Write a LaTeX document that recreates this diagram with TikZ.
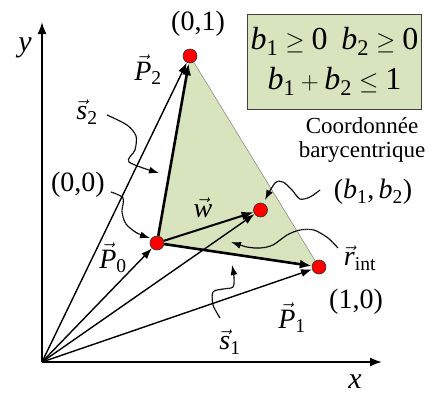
\documentclass[tikz,border=0pt]{standalone}
\usepackage{amsmath}
\usepackage{fontspec}
\setmainfont{Liberation Serif}
\usepackage{tikz}
\usetikzlibrary{arrows.meta,backgrounds}

\definecolor{trigreen}{HTML}{D7E4BD}
\newcommand{\vlab}[2]{$\vec{\textit{#1}}_{\textrm{#2}}$}
\newcommand{\bsub}[1]{\textit{b}_{\textrm{#1}}}

\begin{document}
\begin{tikzpicture}[x=1pt,y=-1pt,
    vec/.style={line width=1.4pt,-{Latex[length=11pt,width=8pt]}},
    edge/.style={line width=2.6pt,-{Latex[length=12pt,width=9pt]}},
    axis/.style={line width=1.8pt,-{Latex[length=12pt,width=9pt]}},
    pt/.style={circle,draw=black!80,line width=0.6pt,fill=red,inner sep=0pt,minimum size=14pt},
    wig/.style={dash pattern=on 1.6pt off 0.4pt,line width=1.2pt,-{Latex[length=10pt,width=7pt]}},
    lab/.style={font=\fontsize{28}{30}\selectfont}]
        \useasboundingbox (0,0) rectangle (434,394);
        \coordinate (O) at (42,362);
        \coordinate (yend) at (42,22);
        \coordinate (xend) at (382,362);
        \node[pt] (P0) at (157,243) {};
        \node[pt] (P1) at (319,267) {};
        \node[pt] (P2) at (190,56) {};
        \node[pt] (B) at (260.5,210) {};
        \begin{scope}[on background layer]
            \fill[trigreen] (P0.center) -- (P2.center) -- (P1.center) -- cycle;
        \end{scope}
        \draw[gray,line width=0.5pt] (P2) -- (P1);
        \draw[axis] (O) -- (yend);
        \draw[axis] (O) -- (xend);
        \foreach \p in {P0,P1,P2,B} \draw[vec] (O) -- (\p);
        \draw[edge] (P0) -- (P2);
        \draw[edge] (P0) -- (P1);
        \draw[line width=2pt,-{Latex[length=12pt,width=9pt]}] (P0) -- (B);
        \node[font=\fontsize{30}{32}\selectfont\itshape] (ylab) at (25,48) {y};
        \node[font=\fontsize{30}{32}\selectfont\itshape] (xlab) at (355,382) {x};
        \node[lab] (c01) at (198,24) {(0,1)};
        \node[lab] (c00) at (78,185) {(0,0)};
        \node[lab] (c10) at (356,302) {(1,0)};
        \node[lab] (cb) at (373,192) {($\bsub{1}$,$\,\bsub{2}$)};
        \node[lab] (P2lab) at (148,70) {\vlab{P}{2}};
        \node[lab] (P0lab) at (113,258) {\vlab{P}{0}};
        \node[lab] (P1lab) at (292,318) {\vlab{P}{1}};
        \node[lab] (s2lab) at (87,112) {\vlab{s}{2}};
        \node[lab] (s1lab) at (230,342) {\vlab{s}{1}};
        \node[lab] (wlab) at (203,208) {$\vec{\textit{w}}$};
        \node[lab] (rlab) at (360,258) {\vlab{r}{int}};
        \node[draw=black!75,fill=trigreen,line width=0.8pt,minimum width=165pt,minimum height=95pt,
            align=center,font=\fontsize{32}{40}\selectfont] (cond) at (334.5,61.5)
            {$\bsub{1}\geq\textrm{0}\;\;\bsub{2}\geq\textrm{0}$\\ $\bsub{1}+\bsub{2}\leq\textrm{1}$};
        \node[align=center,font=\fontsize{23}{24}\selectfont] (bary) at (362,140) {Coordonnée\\barycentrique};
        \draw[wig] plot[smooth] coordinates {(107,115) (127,125) (136,136) (135,150) (129,162) (159,173)};
        \draw[wig] plot[smooth] coordinates {(111,192) (123,198) (122,212) (126,224) (137,233) (150,238)};
        \draw[wig] plot[smooth] coordinates {(320,190) (310,197) (300,199) (292,190) (283,182) (275,183) (265,200)};
        \draw[wig] plot[smooth] coordinates {(338,248) (328,238) (314,230) (300,230) (287,235) (273,245) (260,248) (247,247) (231,242)};
        \draw[wig] plot[smooth] coordinates {(220,318) (213,305) (213,292) (223,289) (233,287) (234,277) (232,265)};
    \end{tikzpicture}
\end{document}
